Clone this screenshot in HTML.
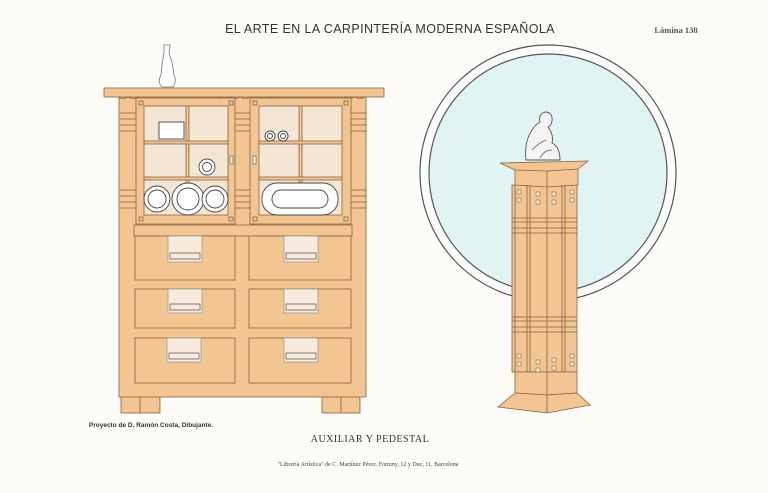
<!DOCTYPE html>
<html><head><meta charset="utf-8"><style>
html,body{margin:0;padding:0;background:#fdfcf9;}
svg{display:block}
</style></head><body>
<svg width="768" height="493" viewBox="0 0 768 493" xmlns="http://www.w3.org/2000/svg">
<rect width="768" height="493" fill="#fdfcf9"/>
<text x="390" y="33" text-anchor="middle" font-family="Liberation Sans, sans-serif" font-size="12.5" fill="#333" letter-spacing="0.4">EL ARTE EN LA CARPINTERÍA MODERNA ESPAÑOLA</text>
<text x="676" y="33" text-anchor="middle" font-family="Liberation Serif, serif" font-size="8.5" font-weight="bold" fill="#555">Lámina 138</text>

<!-- circle -->
<circle cx="548" cy="173" r="128" fill="#fff" stroke="#555" stroke-width="1.2"/>
<circle cx="548" cy="173" r="119" fill="#e0f4f4" stroke="#555" stroke-width="1.2"/>

<!-- cabinet -->
<g stroke="#8a6440" stroke-width="0.8">
<rect x="121" y="396" width="19" height="17" fill="#f2c592"/>
<rect x="140" y="396" width="20" height="17" fill="#f2c592"/>
<rect x="322" y="396" width="19" height="17" fill="#f2c592"/>
<rect x="341" y="396" width="19" height="17" fill="#f2c592"/>
<rect x="119" y="96" width="247" height="301" fill="#f2c592"/>
<rect x="104" y="88" width="280" height="9" fill="#f2c592"/>
<path d="M118 97 q5 3 10 0 q5 3 10 0 M210 97 q5 3 10 0 q5 3 10 0 q5 3 10 0 q5 3 10 0 q5 3 10 0 q5 3 10 0 q5 3 10 0 M345 97 q5 3 10 0 q5 3 10 0" fill="none"/>
<g fill="none" stroke="#8a6238">
<path d="M120 113h16M120 119h16M120 125h16M120 131h16 M235 113h15M235 119h15M235 125h15M235 131h15 M351 113h16M351 119h16M351 125h16M351 131h16"/>
<path d="M120 190h16M120 196h16M120 202h16M120 208h16 M235 190h15M235 196h15M235 202h15M235 208h15 M351 190h16M351 196h16M351 202h16M351 208h16"/>
</g>
<rect x="136" y="98" width="99" height="126" fill="#f2c592"/>
<rect x="250" y="98" width="101" height="126" fill="#f2c592"/>
<rect x="144" y="106" width="84" height="109" fill="#f4e6d4"/>
<rect x="259" y="106" width="83" height="109" fill="#f4e6d4"/>
<rect x="186" y="106" width="3" height="109" fill="#f2c592"/>
<rect x="144" y="141" width="84" height="3" fill="#f2c592"/>
<rect x="144" y="177" width="84" height="3" fill="#f2c592"/>
<rect x="299" y="106" width="3" height="109" fill="#f2c592"/>
<rect x="259" y="141" width="83" height="3" fill="#f2c592"/>
<rect x="259" y="177" width="83" height="3" fill="#f2c592"/>
<g fill="none" stroke="#444" stroke-width="0.9">
<rect x="159" y="122" width="25" height="17" fill="#fff"/>
<circle cx="207" cy="167" r="8" fill="#fff"/><circle cx="207" cy="167" r="4.5"/>
<circle cx="270" cy="136" r="5" fill="#fff"/><circle cx="270" cy="136" r="2.5"/>
<circle cx="283" cy="136" r="5" fill="#fff"/><circle cx="283" cy="136" r="2.5"/>
<circle cx="157" cy="199" r="13" fill="#fff"/><circle cx="157" cy="199" r="9"/>
<circle cx="188" cy="199" r="16" fill="#fff"/><circle cx="188" cy="199" r="11"/>
<circle cx="215" cy="199" r="13" fill="#fff"/><circle cx="215" cy="199" r="9"/>
<rect x="262" y="183" width="76" height="32" rx="15" fill="#fff"/>
<rect x="272" y="190" width="56" height="18" rx="9"/>
</g>
<rect x="139" y="101" width="4" height="4" fill="none"/><rect x="229" y="101" width="4" height="4" fill="none"/>
<rect x="253" y="101" width="4" height="4" fill="none"/><rect x="344" y="101" width="4" height="4" fill="none"/>
<rect x="139" y="217" width="4" height="4" fill="none"/><rect x="229" y="217" width="4" height="4" fill="none"/>
<rect x="253" y="217" width="4" height="4" fill="none"/><rect x="344" y="217" width="4" height="4" fill="none"/>
<rect x="230" y="156" width="3" height="8" fill="#fff"/><rect x="253" y="156" width="3" height="8" fill="#fff"/>
<rect x="134" y="225" width="218" height="11" fill="#f2c592"/>
<rect x="135" y="236" width="100" height="44" fill="#f2c592"/>
<rect x="249" y="236" width="102" height="44" fill="#f2c592"/>
<rect x="135" y="289" width="100" height="39" fill="#f2c592"/>
<rect x="249" y="289" width="102" height="39" fill="#f2c592"/>
<rect x="135" y="338" width="100" height="45" fill="#f2c592"/>
<rect x="249" y="338" width="102" height="45" fill="#f2c592"/>
<g fill="#f6ebdd" stroke="#888" stroke-width="0.6">
<rect x="168" y="236" width="34" height="26"/><rect x="284" y="236" width="34" height="26"/>
<rect x="168" y="289" width="34" height="24"/><rect x="284" y="289" width="34" height="24"/>
<rect x="167" y="338" width="34" height="24"/><rect x="284" y="338" width="34" height="24"/>
</g>
<g fill="none" stroke="#555" stroke-width="0.7">
<path d="M170 253h30v6h-30z M286 253h30v6h-30z M170 304h30v6h-30z M286 304h30v6h-30z M169 353h30v6h-30z M286 353h30v6h-30z"/>
</g>
</g>
<!-- vase -->
<path d="M164 45 h6 l-1 8 q4 10 5 22 q3 6 -1 12 h-11 q-5 -5 -1 -12 q1 -12 3 -22 z" fill="#fff" stroke="#777" stroke-width="0.8"/>

<!-- pedestal -->
<g stroke="#8a6440" stroke-width="0.8">
<rect x="512" y="185" width="65" height="187" fill="#f2c592"/>
<polygon points="515,168 578,168 578,185 547,187 515,185" fill="#f2c592"/>
<polygon points="500,163 588,161 578,169 547,171 515,170" fill="#f2c592"/>
<polygon points="515,372 577,372 577,393 547,395 515,393" fill="#f2c592"/>
<polygon points="515,393 547,395 577,393 590,405 547,413 498,407" fill="#f2c592"/>
<path d="M547 171V413 M527 185V372 M530 185V372 M562 185V372 M565 185V372 M515 185V372" fill="none"/>
<path d="M512 218h65M512 222h65M512 228h65M512 233h65 M512 317h65M512 321h65M512 327h65M512 332h65" fill="none"/>
<g fill="#fbf0e0" stroke-width="0.6">
<rect x="517" y="190" width="4" height="4"/><rect x="517" y="198" width="4" height="4"/>
<rect x="536" y="192" width="4" height="4"/><rect x="536" y="200" width="4" height="4"/>
<rect x="552" y="192" width="4" height="4"/><rect x="552" y="200" width="4" height="4"/>
<rect x="570" y="190" width="4" height="4"/><rect x="570" y="198" width="4" height="4"/>
<rect x="517" y="354" width="4" height="4"/><rect x="517" y="362" width="4" height="4"/>
<rect x="536" y="360" width="4" height="4"/><rect x="536" y="368" width="4" height="4"/>
<rect x="552" y="358" width="4" height="4"/><rect x="552" y="366" width="4" height="4"/>
<rect x="570" y="354" width="4" height="4"/><rect x="570" y="362" width="4" height="4"/>
</g>
</g>
<!-- statue -->
<path d="M526 160 q-2 -18 6 -30 q4 -6 8 -8 q-2 -8 5 -10 q8 0 7 9 q-1 5 -4 6 q6 8 4 16 q8 4 8 17 z" fill="#f4f4f2" stroke="#555" stroke-width="0.9"/>
<path d="M532 150 q8 -8 14 -10 M540 158 q4 -8 12 -8" fill="none" stroke="#555" stroke-width="0.7"/>

<text x="151" y="427" text-anchor="middle" font-family="Liberation Sans, sans-serif" font-size="6.5" font-weight="bold" fill="#333">Proyecto de D. Ramón Costa, Dibujante.</text>
<text x="370" y="442" text-anchor="middle" font-family="Liberation Serif, serif" font-size="10" fill="#333" letter-spacing="0.5">AUXILIAR Y PEDESTAL</text>
<text x="368" y="466" text-anchor="middle" font-family="Liberation Serif, serif" font-size="6" fill="#444">"Librería Artística" de C. Martínez Pérez. Fortuny, 12 y Duc, 11, Barcelona</text>
</svg>
</body></html>
